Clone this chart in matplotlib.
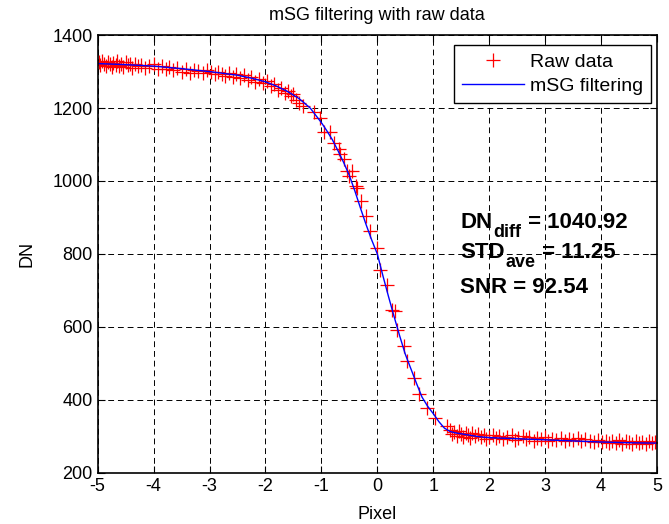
import numpy as np
import matplotlib
matplotlib.use('Agg')
import matplotlib.pyplot as plt
from matplotlib.transforms import offset_copy

plt.rcParams['font.family'] = ['Liberation Sans', 'DejaVu Sans']
plt.rcParams['axes.unicode_minus'] = False

# datos crudos (pixel, DN)
raw_x = [-4.98, -4.95, -4.92, -4.88, -4.85, -4.82, -4.78, -4.75, -4.72, -4.68,
         -4.65, -4.61, -4.58, -4.55, -4.50, -4.46, -4.42, -4.38, -4.33, -4.28,
         -4.22, -4.15, -4.08, -4.00, -3.92, -3.85, -3.78, -3.72, -3.65, -3.58,
         -3.50, -3.42, -3.35, -3.28, -3.20, -3.12, -3.05, -2.98, -2.90, -2.85,
         -2.78, -2.72, -2.65, -2.58, -2.52, -2.45, -2.38, -2.32, -2.25, -2.18,
         -2.12, -2.05, -1.98, -1.90, -1.85, -1.78, -1.72, -1.65, -1.60, -1.55,
         -1.50, -1.45, -1.40,
         -1.32, -1.14, -1.02, -0.96, -0.84, -0.78, -0.69, -0.66, -0.60, -0.54,
         -0.51, -0.45, -0.39, -0.36, -0.30, -0.21, -0.125, -0.005, 0.05, 0.17,
         0.26, 0.32, 0.35, 0.47, 0.53, 0.65, 0.74, 0.89, 1.04, 1.24,
         1.30, 1.34, 1.38, 1.42, 1.46, 1.50, 1.54, 1.58, 1.62, 1.66,
         1.70, 1.75, 1.80, 1.85, 1.90, 1.95, 2.00, 2.06, 2.12, 2.18,
         2.25, 2.32, 2.40, 2.46, 2.52, 2.60, 2.66, 2.72, 2.80, 2.86,
         2.92, 3.00, 3.06, 3.12, 3.20, 3.28, 3.35, 3.42, 3.50, 3.58,
         3.65, 3.72, 3.80, 3.88, 3.95, 4.02, 4.08, 4.14, 4.20, 4.26,
         4.32, 4.38, 4.44, 4.50, 4.56, 4.62, 4.68, 4.74, 4.80, 4.86,
         4.92, 4.97]
raw_y = [1325, 1318, 1330, 1322, 1316, 1327, 1320, 1313, 1324, 1318,
         1329, 1315, 1321, 1312, 1326, 1317, 1322, 1311, 1320, 1314,
         1318, 1310, 1316, 1320, 1308, 1314, 1306, 1312, 1303, 1309,
         1300, 1306, 1297, 1304, 1301, 1296, 1305, 1298, 1292, 1300,
         1294, 1288, 1296, 1286, 1292, 1283, 1290, 1278, 1284, 1272,
         1280, 1268, 1274, 1260, 1266, 1250, 1256, 1240, 1246, 1232,
         1238, 1222, 1215,
         1206, 1188, 1174, 1133, 1133, 1105, 1087, 1073, 1060, 1028,
         1014, 1028, 986, 982, 945, 904, 863, 817, 757, 716,
         647, 643, 592, 546, 505, 459, 415, 377, 350, 327,
         318, 305, 312, 300, 314, 306, 298, 310, 303, 296,
         308, 300, 305, 297, 302, 293, 299, 304, 295, 300,
         292, 298, 303, 290, 296, 300, 291, 297, 288, 295,
         292, 299, 287, 293, 290, 295, 286, 292, 289, 294,
         286, 291, 288, 284, 290, 283, 288, 280, 287, 282,
         289, 279, 286, 283, 278, 288, 281, 285, 278, 286,
         280, 283]

# curva filtrada mSG
filt_x = [-5.0, -4.5, -4.0, -3.5, -3.0, -2.5, -2.25, -2.0, -1.8, -1.6,
          -1.4, -1.2, -1.0, -0.9, -0.8, -0.7, -0.6, -0.5, -0.4, -0.3,
          -0.2, -0.1, 0.0, 0.1, 0.2, 0.3, 0.4, 0.5, 0.6, 0.7,
          0.8, 0.9, 1.0, 1.1, 1.2, 1.3, 1.4, 1.6, 1.8, 2.0,
          2.5, 3.0, 3.5, 4.0, 4.5, 5.0]
filt_y = [1322, 1319, 1315, 1308, 1300, 1290, 1282, 1272, 1260, 1245,
          1226, 1200, 1160, 1137, 1112, 1082, 1050, 1015, 972, 925,
          880, 838, 800, 740, 683, 628, 575, 525, 485, 445,
          407, 382, 362, 340, 322, 313, 309, 304, 299, 296,
          293, 290, 287, 284, 282, 281]

# textos de resultados: (principal, subindice, resto, y)
stats = [('DN', 'diff', ' = 1040.92', 872),
         ('STD', 'ave', ' = 11.25', 788),
         ('SNR = 92.54', '', '', 692)]

fig = plt.figure(figsize=(6.69, 5.24), dpi=100)
ax = fig.add_axes([0.146, 0.098, 0.836, 0.835])

ax.plot(raw_x, raw_y, '+', color='red', ms=10, mew=0.9, label='Raw data')
ax.plot(filt_x, filt_y, '-', color='blue', lw=1, label='mSG filtering')

ax.set_xlim(-5, 5)
ax.set_ylim(200, 1400)
ax.set_xticks(range(-5, 6))
ax.set_yticks(range(200, 1401, 200))
ax.grid(True, color='k', linestyle=(0, (6, 4)), linewidth=0.7)
ax.tick_params(direction='in', top=True, right=True, labelsize=13, length=5)
for s in ax.spines.values():
    s.set_linewidth(1.2)

ax.set_title('mSG filtering with raw data', fontsize=13, pad=11)
ax.set_xlabel('Pixel', fontsize=13, labelpad=8)
ax.set_ylabel('DN', fontsize=13, labelpad=12)

leg = ax.legend(loc='upper right', bbox_to_anchor=(0.9895, 0.977),
                fontsize=14, fancybox=False, edgecolor='k', framealpha=1,
                borderaxespad=0, handlelength=3.2, handletextpad=0.3,
                borderpad=0.4, labelspacing=0.35)
leg.get_frame().set_linewidth(1)

# encadenar textos con subindice bajo
renderer = fig.canvas.get_renderer()
for main, sub, rest, yy in stats:
    t = ax.text(1.48, yy, main, fontsize=16, fontweight='bold')
    if not sub:
        continue
    w = t.get_window_extent(renderer).width * 72.0 / fig.dpi
    tr = offset_copy(ax.transData, fig=fig, x=w + 1, y=-6.5, units='points')
    t2 = ax.text(1.48, yy, sub, fontsize=13, fontweight='bold', transform=tr)
    w2 = t2.get_window_extent(renderer).width * 72.0 / fig.dpi
    tr2 = offset_copy(ax.transData, fig=fig, x=w + w2 + 1, y=0, units='points')
    ax.text(1.48, yy, rest, fontsize=16, fontweight='bold', transform=tr2)

fig.savefig('out.png', dpi=100)
